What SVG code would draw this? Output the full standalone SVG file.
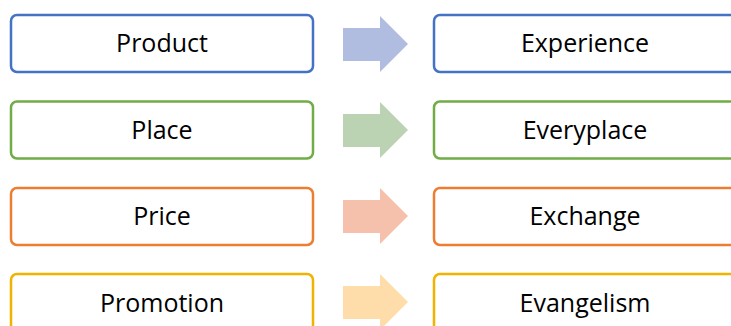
<svg xmlns="http://www.w3.org/2000/svg" width="731" height="326" viewBox="0 0 731 326">
<style>
.box{fill:#ffffff;stroke-width:2.5}
.lbl{font-family:"Open Sans","Noto Sans",sans-serif;font-size:25px;fill:#000000;text-anchor:middle}
.b{stroke:#4472C4}.g{stroke:#70AD47}.o{stroke:#ED7D31}.y{stroke:#F0B400}
</style>
<rect width="731" height="326" fill="#ffffff"/>
<g id="product"><rect class="box b" x="11" y="15" width="302" height="57" rx="6"/><text class="lbl" x="162" y="52">Product</text></g>
<g id="place"><rect class="box g" x="11" y="101.5" width="302" height="57" rx="6"/><text class="lbl" x="162" y="139">Place</text></g>
<g id="price"><rect class="box o" x="11" y="188" width="302" height="57" rx="6"/><text class="lbl" x="162" y="225">Price</text></g>
<g id="promotion"><rect class="box y" x="11" y="274" width="302" height="57" rx="6"/><text class="lbl" x="162" y="311.5">Promotion</text></g>
<g id="experience"><rect class="box b" x="434" y="15" width="302" height="57" rx="6"/><text class="lbl" x="585" y="52">Experience</text></g>
<g id="everyplace"><rect class="box g" x="434" y="101.5" width="302" height="57" rx="6"/><text class="lbl" x="585" y="139">Everyplace</text></g>
<g id="exchange"><rect class="box o" x="434" y="188" width="302" height="57" rx="6"/><text class="lbl" x="585" y="225">Exchange</text></g>
<g id="evangelism"><rect class="box y" x="434" y="274" width="302" height="57" rx="6"/><text class="lbl" x="585" y="311.5">Evangelism</text></g>
<g id="connectors">
<polygon fill="#B0BCE0" points="343,28 380,28 380,16 408,44 380,72 380,61 343,61"/>
<polygon fill="#BBD3B2" points="343,114 380,114 380,102 408,130 380,158 380,147 343,147"/>
<polygon fill="#F5C0AC" points="343,200 380,200 380,188 408,216 380,244 380,233 343,233"/>
<polygon fill="#FFDDAA" points="343,286 380,286 380,274 408,302 380,330 380,319 343,319"/>
</g>
</svg>
